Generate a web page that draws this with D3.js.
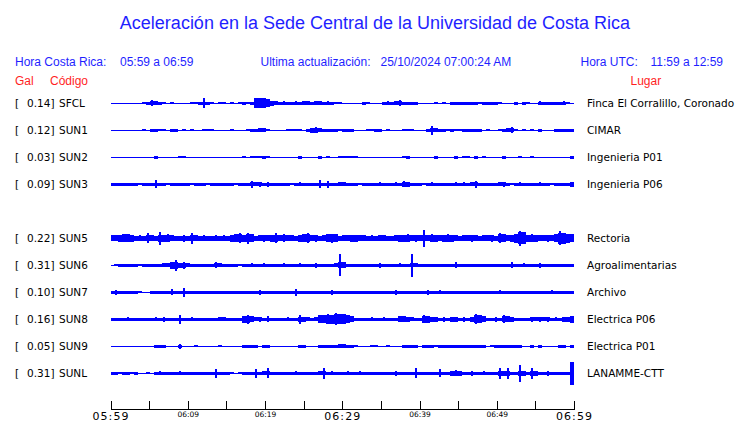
<!DOCTYPE html>
<html><head><meta charset="utf-8">
<script src="https://cdn.jsdelivr.net/npm/d3@7"></script>
<style>body{margin:0;background:#fff;}svg{display:block;}</style>
</head><body>
<svg id="chart" width="740" height="423"></svg>
<script>
// ---------- DATA ----------
const stations = ["SFCL","SUN1","SUN2","SUN3","SUN5","SUN6","SUN7","SUN8","SUN9","SUNL"];
const galValues = ["0.14","0.12","0.03","0.09","0.22","0.31","0.10","0.16","0.05","0.31"];
const places = ["Finca El Corralillo, Coronado","CIMAR","Ingenieria P01","Ingenieria P06","Rectoria","Agroalimentarias","Archivo","Electrica P06","Electrica P01","LANAMME-CTT"];
const rowSlots = ["SFCL","SUN1","SUN2","SUN3","SUN4","SUN5","SUN6","SUN7","SUN8","SUN9","SUNL"];
const startTime = "05:59", endTime = "06:59";
const tickTimes = ["05:59","06:04","06:09","06:14","06:19","06:24","06:29","06:34","06:39","06:44","06:49","06:54","06:59"];
const labeledTicks = ["05:59","06:09","06:19","06:29","06:39","06:49","06:59"];
const majorTicks = ["05:59","06:29","06:59"];

// envelope (peak-to-peak amplitude) per ~31 s window, read from the record
const SFCL = [1,1,1,1,1,1,1,1,2,3, 6,4,3,2,1,2,1,1,1,1, 2,2,3,10,3,2,1,2,2,1, 2,1,2,3,2,3,10,10,10,8,
  5,4,3,4,3,3,4,3,4,4, 3,4,4,3,4,3,2,2,1,1, 1,1,1,3,2,1,1,1,3,4, 3,4,6,3,3,3,3,1,1,1,
  1,2,1,2,1,3,3,3,3,3, 3,3,2,3,3,3,3,2,1,1, 1,3,1,3,2,1,1,4,3,3, 3,3,3,4,2,1];
const SUN1 = [1,1,1,1,1,1,1,1,2,1, 3,3,2,2,1,3,3,1,2,1, 2,1,1,2,2,2,1,1,1,1, 2,1,1,1,2,3,3,4,4,2,
  1,1,1,1,2,2,2,2,1,3, 5,6,4,3,3,3,3,2,3,3, 3,1,1,1,2,2,3,3,1,2, 1,1,1,2,2,2,1,1,1,3,
  9,4,3,3,2,3,2,2,3,3, 3,3,3,1,2,1,1,2,3,4, 6,2,1,2,1,2,1,3,1,1, 1,3,3,3,3,3];
const SUN2 = [1,1,1,1,1,1,1,1,1,1, 1,3,1,1,1,1,1,2,2,1, 1,1,1,1,1,1,1,1,1,1, 1,1,1,2,1,2,2,2,3,2,
  1,1,1,1,1,1,1,3,1,1, 1,1,3,1,2,1,1,2,2,2, 2,2,1,1,1,1,1,1,1,1, 1,1,1,2,3,1,1,1,1,1,
  1,3,1,1,1,1,3,1,2,2, 1,3,1,2,1,1,1,1,3,1, 1,1,2,1,1,2,1,1,1,1, 1,1,1,1,1,3];
const SUN3 = [3,3,3,3,3,3,3,2,3,3, 3,8,3,3,2,3,3,3,3,3, 2,3,3,3,2,3,3,3,3,3, 3,2,3,3,3,7,4,5,3,5,
  3,3,3,3,3,2,3,4,3,3, 3,3,8,3,7,3,3,4,4,3, 3,3,2,3,3,3,3,4,3,3, 3,4,3,6,5,3,3,3,2,3,
  4,3,3,3,3,3,4,3,4,3, 4,7,3,3,3,3,3,4,5,3, 2,3,4,3,3,3,3,4,3,3, 2,3,3,3,3,5];
const SUN5 = [6,6,7,8,8,7,5,6,5,10, 6,5,13,7,8,6,5,5,7,5, 11,6,5,6,5,5,6,5,6,5, 7,8,10,7,11,8,5,6,7,6,
  7,10,6,8,6,6,5,7,8,10, 6,7,5,6,8,9,8,5,6,6, 7,7,6,6,5,6,5,6,6,5, 5,6,7,7,8,6,7,6,17,6,
  8,7,6,7,8,7,6,5,6,6, 7,6,5,6,6,7,5,10,8,6, 7,9,15,12,7,8,7,6,6,7, 6,8,14,11,9,8];
const SUN6 = [1,2,3,3,3,3,3,2,3,3, 3,3,3,4,4,7,11,5,7,4, 3,3,3,3,3,3,6,4,3,3, 3,3,2,3,3,4,3,3,4,3,
  3,3,3,4,3,3,3,4,3,3, 3,5,3,3,3,3,4,22,6,3, 3,3,3,3,3,3,3,5,3,3, 3,3,4,3,3,23,4,3,3,3,
  3,3,3,3,3,3,6,3,3,3, 3,3,3,3,3,3,3,3,3,3, 6,3,3,4,3,3,3,5,3,3, 3,3,3,3,3,3];
const SUN7 = [3,5,3,3,3,3,3,2,1,1, 3,3,3,3,3,6,3,3,9,3, 3,3,3,3,3,3,3,3,3,3, 3,3,3,3,3,3,3,5,3,3,
  3,3,3,3,3,3,7,3,3,3, 3,3,3,3,3,5,3,3,3,3, 3,3,3,3,3,3,3,3,3,3, 3,5,3,3,3,3,3,3,3,5,
  3,3,4,3,3,3,3,3,3,3, 3,3,3,3,3,3,3,4,3,3, 3,3,3,3,3,3,3,3,3,3, 4,3,3,3,3,3];
const SUN8 = [3,3,3,3,4,3,3,3,3,3, 3,4,3,5,3,3,3,9,3,3, 4,3,3,3,3,3,3,4,4,3, 3,3,3,7,9,6,4,5,3,6,
  3,3,3,3,4,3,3,9,5,4, 3,4,8,8,10,9,12,10,10,8, 6,3,3,3,3,4,3,3,4,3, 3,3,6,6,5,4,3,3,8,7,
  5,5,3,5,3,5,5,3,5,3, 5,10,8,6,3,3,5,3,8,6, 5,3,3,3,3,5,4,5,4,5, 3,4,3,5,5,7];
const SUN9 = [1,1,1,1,1,1,1,1,1,1, 1,3,3,3,1,1,1,5,1,1, 1,2,1,1,1,1,1,2,1,1, 1,1,1,3,3,3,3,1,3,3,
  1,1,1,1,1,1,1,3,3,1, 1,1,3,3,3,3,3,4,4,3, 3,2,1,1,1,2,2,1,1,2, 1,1,1,3,3,3,3,1,3,3,
  3,2,3,3,3,3,3,3,3,3, 3,3,3,3,1,2,3,3,3,3, 3,3,3,1,1,3,1,3,1,1, 1,1,3,3,1,3];
const SUNL = [3,3,2,3,3,2,3,1,1,2, 1,3,4,3,3,3,3,4,3,3, 3,3,3,3,3,3,9,3,3,3, 2,1,2,3,3,3,9,3,4,10,
  3,3,3,3,3,3,4,3,3,3, 3,3,4,11,3,4,3,3,3,4, 3,3,4,3,3,3,3,3,3,3, 3,5,3,3,3,3,10,3,3,3,
  3,3,8,3,3,5,6,5,3,3, 5,3,3,4,3,3,3,11,5,11, 3,3,17,5,3,11,5,3,3,5, 3,3,3,3,3,23];
const envelopes = {SFCL, SUN1, SUN2, SUN3, SUN5, SUN6, SUN7, SUN8, SUN9, SUNL};

// ---------- DRAW ----------
const svg = d3.select("#chart");
const BLUE = "#1f1fff", TRACE = "#0000ff", RED = "#ff1f1f";
const parseT = d3.timeParse("%H:%M"), fmtT = d3.timeFormat("%H:%M");
const t0 = parseT(startTime), t1 = parseT(endTime);

const x = d3.scaleTime().domain([t0, t1]).range([110.5, 574]);
const row = d3.scalePoint().domain(rowSlots).range([103, 373]);
const amp = d3.scaleLinear().domain([0, 1]).range([0, 1]);

svg.append("text").attr("x", 375).attr("y", 28.5).attr("text-anchor", "middle")
  .attr("font-family", "Liberation Sans, Arial, sans-serif").attr("font-size", 18)
  .attr("fill", BLUE).text("Aceleración en la Sede Central de la Universidad de Costa Rica");

const hdr = [
  {t: "Hora Costa Rica:", x: 15}, {t: "05:59 a 06:59", x: 120},
  {t: "Ultima actualización:", x: 260.5}, {t: "25/10/2024 07:00:24 AM", x: 380.5},
  {t: "Hora UTC:", x: 580.5}, {t: "11:59 a 12:59", x: 650.5}
];
svg.selectAll("text.hdr").data(hdr).join("text").attr("class", "hdr")
  .attr("x", d => d.x).attr("y", 66).attr("font-family", "Liberation Sans, Arial, sans-serif")
  .attr("font-size", 12).attr("fill", BLUE).text(d => d.t);
const hdr2 = [{t: "Gal", x: 15}, {t: "Código", x: 50}, {t: "Lugar", x: 630.5}];
svg.selectAll("text.hdr2").data(hdr2).join("text").attr("class", "hdr2")
  .attr("x", d => d.x).attr("y", 85).attr("font-family", "Liberation Sans, Arial, sans-serif")
  .attr("font-size", 12).attr("fill", RED).text(d => d.t);

const lab = svg.append("g").attr("font-family", "DejaVu Sans, sans-serif").attr("font-size", 10.5).attr("fill", "#000");
stations.forEach((s, k) => {
  const cy = row(s);
  lab.append("text").attr("x", 15).attr("y", cy + 4).text("[");
  lab.append("text").attr("x", 54.5).attr("y", cy + 4).attr("text-anchor", "end").text(galValues[k] + "]");
  lab.append("text").attr("x", 59).attr("y", cy + 4).text(s);
  lab.append("text").attr("x", 587).attr("y", cy + 4).text(places[k]);
});

// each window: a band as wide as the neighbouring activity, plus a narrow spike for its own peak
const traces = svg.append("g").attr("shape-rendering", "crispEdges").attr("fill", TRACE);
stations.forEach(s => {
  const vals = envelopes[s];
  const n = vals.length;
  const bodyOf = i => {
    const v = vals[i];
    if (v <= 3) return v;
    const nb = Math.max(vals[Math.max(0, i - 1)], vals[Math.min(n - 1, i + 1)]);
    return Math.min(v, Math.max(3, nb));
  };
  const sampleTime = d3.scaleLinear().domain([0, n]).range([t0, t1]);
  const pts = vals.map((v, i) => ({i, v, b: bodyOf(i)}));
  pts.push({i: n, v: vals[n - 1], b: bodyOf(n - 1)});
  const cy = row(s);
  const area = d3.area()
    .x(d => x(sampleTime(d.i)))
    .y0(d => cy - amp(d.b) / 2)
    .y1(d => cy + amp(d.b) / 2)
    .curve(d3.curveStepAfter);
  traces.append("path").datum(pts).attr("d", area);
  traces.selectAll(null).data(pts.slice(0, n).filter(d => d.v > d.b)).join("rect")
    .attr("x", d => x(sampleTime(d.i + 0.5)) - 1)
    .attr("width", d => d.v > 12 ? 1.5 : 2)
    .attr("y", d => cy - amp(d.v) / 2)
    .attr("height", d => amp(d.v));
});

const axis = d3.axisBottom(x)
  .tickValues(tickTimes.map(parseT))
  .tickSize(-8).tickSizeOuter(0)
  .tickFormat(d => labeledTicks.includes(fmtT(d)) ? fmtT(d) : "");
const ag = svg.append("g").attr("transform", "translate(0,409)").attr("shape-rendering", "crispEdges").call(axis);
ag.select(".domain").attr("stroke", "#000");
ag.selectAll(".tick line").attr("stroke", "#000");
ag.selectAll(".tick text")
  .attr("fill", "#000")
  .attr("font-family", "DejaVu Sans, sans-serif")
  .attr("dy", 0)
  .attr("y", d => majorTicks.includes(fmtT(d)) ? 10.5 : 8.3)
  .attr("font-size", d => majorTicks.includes(fmtT(d)) ? 11 : 7.5)
  .attr("letter-spacing", d => majorTicks.includes(fmtT(d)) ? 1.1 : 0);
</script>
</body></html>
